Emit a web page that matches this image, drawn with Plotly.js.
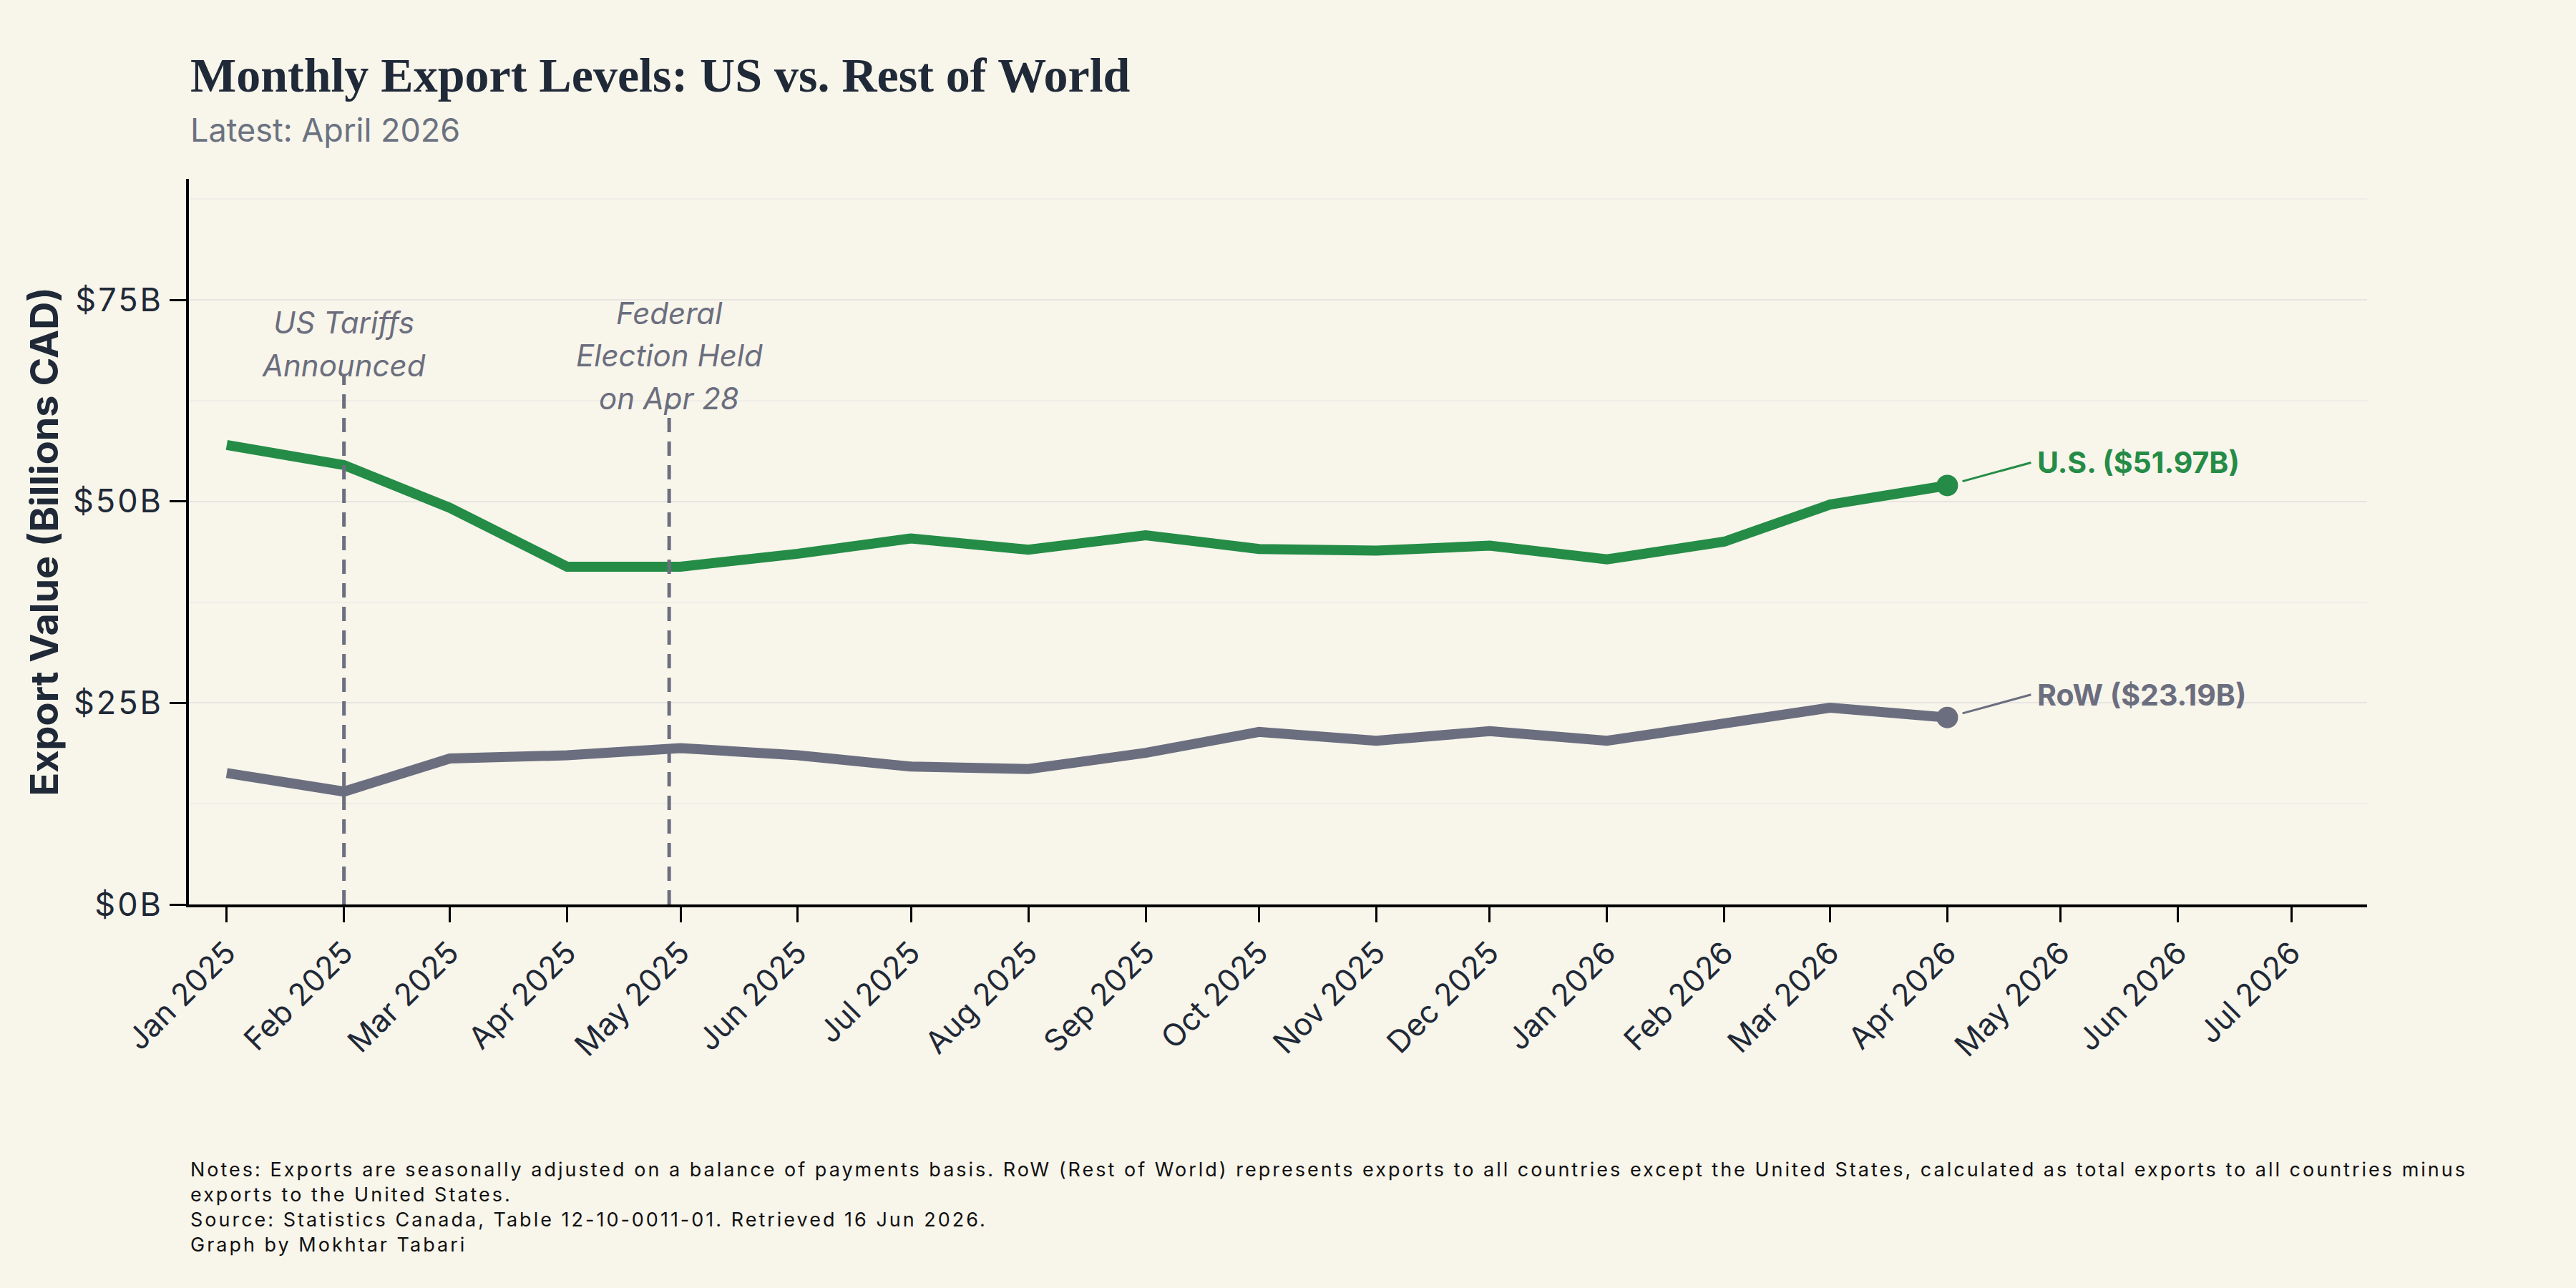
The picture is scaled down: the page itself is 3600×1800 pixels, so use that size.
<!DOCTYPE html>
<html>
<head>
<meta charset="utf-8">
<script src="https://cdn.plot.ly/plotly-3.0.1.min.js"></script>
<style>
  html, body { margin: 0; padding: 0; background: #f8f5eb; }
  #chart { width: 3600px; height: 1800px; }
  /* open tracking on the value axis labels */
  #chart .ytick text { letter-spacing: 3px; }
</style>
</head>
<body>
<div id="chart"></div>
<script>
// Monthly export values, billions CAD (seasonally adjusted, BOP basis)
const months = [
  "2025-01-01", "2025-02-01", "2025-03-01", "2025-04-01", "2025-05-01", "2025-06-01",
  "2025-07-01", "2025-08-01", "2025-09-01", "2025-10-01", "2025-11-01", "2025-12-01",
  "2026-01-01", "2026-02-01", "2026-03-01", "2026-04-01"
];
const usExports = [57.0, 54.5, 49.2, 41.9, 41.9, 43.5, 45.4, 44.0, 45.8, 44.1, 43.9, 44.5, 42.8, 45.0, 49.6, 51.97];
const rowExports = [16.3, 14.0, 18.1, 18.5, 19.4, 18.5, 17.1, 16.8, 18.8, 21.4, 20.3, 21.5, 20.3, 22.3, 24.4, 23.19];

// Policy events marked on the timeline
const eventDates = ["2025-02-01", "2025-04-28"];
const eventLabels = [["US Tariffs", "Announced"], ["Federal", "Election Held", "on Apr 28"]];

const GREEN = "#248c46";
const GREY = "#6b6e7e";
const INK = "#1f2937";
const BG = "#f8f5eb";
const SANS = "Inter, 'Noto Sans', sans-serif";
const SERIF = "'Liberation Serif', 'DejaVu Serif', serif";

const last = months.length - 1;

const traces = [
  {
    x: months, y: usExports, type: "scatter", mode: "lines", name: "U.S.",
    line: { color: GREEN, width: 14 }, hoverinfo: "skip"
  },
  {
    x: months, y: rowExports, type: "scatter", mode: "lines", name: "RoW",
    line: { color: GREY, width: 14 }, hoverinfo: "skip"
  },
  {
    x: [months[last]], y: [usExports[last]], type: "scatter", mode: "markers",
    marker: { color: GREEN, size: 30 }, hoverinfo: "skip"
  },
  {
    x: [months[last]], y: [rowExports[last]], type: "scatter", mode: "markers",
    marker: { color: GREY, size: 30 }, hoverinfo: "skip"
  }
];

// dashed event markers and their stacked captions
const eventStyle = [
  { top: 65.8, captionY: 72.2 },
  { top: 61.9, captionY: 73.4 }
];
const shapes = eventDates.map((d, i) => ({
  type: "line", xref: "x", yref: "y",
  x0: d, x1: d, y0: 0, y1: eventStyle[i].top,
  line: { color: GREY, width: 5, dash: "20px,13px" },
  layer: "above"
}));

const annotations = [];
eventLabels.forEach((lines, i) => {
  lines.forEach((txt, j) => {
    annotations.push({
      xref: "x", yref: "y", x: eventDates[i], y: eventStyle[i].captionY,
      yshift: -59.5 * j,
      text: txt, showarrow: false, xanchor: "center", yanchor: "middle",
      font: { family: SANS, size: 42, color: GREY, style: "italic" }
    });
  });
});

// end-of-line value labels
function endLabel(name, values, color) {
  return {
    xref: "x", yref: "y", x: months[last], y: values[last],
    text: name + " ($" + values[last].toFixed(2) + "B)",
    showarrow: true, arrowhead: 0, arrowwidth: 3, arrowcolor: color,
    ax: 117, ay: -32, standoff: 22, borderpad: 8,
    xanchor: "left", yanchor: "middle",
    font: { family: SANS, size: 41, color: color, weight: 700 }
  };
}
annotations.push(endLabel("U.S.", usExports, GREEN));
annotations.push(endLabel("RoW", rowExports, GREY));

// heading, subheading and footnotes
annotations.push({
  xref: "paper", yref: "paper", x: 0, y: 1.143, xanchor: "left", yanchor: "middle",
  text: "Monthly Export Levels: US vs. Rest of World", showarrow: false,
  font: { family: SERIF, size: 68, color: INK, weight: 700 }
});
annotations.push({
  xref: "paper", yref: "paper", x: 0, y: 1.0674, xanchor: "left", yanchor: "middle",
  text: "Latest: April 2026", showarrow: false,
  font: { family: SANS, size: 45, color: "#6b7280" }
});
annotations.push({
  xref: "paper", yref: "paper", x: 0, y: -0.347, xanchor: "left", yanchor: "top", align: "left",
  text: "Notes: Exports are seasonally adjusted on a balance of payments basis. RoW (Rest of World) represents exports to all countries except the United States, calculated as total exports to all countries minus<br>" +
        "exports to the United States.<br>" +
        "Source: Statistics Canada, Table 12-10-0011-01. Retrieved 16 Jun 2026.<br>" +
        "Graph by Mokhtar Tabari",
  showarrow: false,
  font: { family: SANS, size: 27, color: "#111111" }
});

const layout = {
  width: 3600, height: 1800,
  paper_bgcolor: BG, plot_bgcolor: BG,
  margin: { l: 264, r: 292, t: 250, b: 536, pad: 0 },
  showlegend: false,
  font: { family: SANS, color: INK },
  xaxis: {
    type: "date",
    range: ["2024-12-22", "2026-07-21"],
    tick0: "2025-01-01", dtick: "M1", tickformat: "%b %Y",
    tickangle: -45,
    tickfont: { family: SANS, size: 43, color: INK },
    ticks: "outside", ticklen: 21, tickwidth: 3, tickcolor: "#000000",
    showline: true, linewidth: 4, linecolor: "#000000",
    showgrid: false, zeroline: false
  },
  yaxis: {
    range: [0, 90],
    tick0: 0, dtick: 25,
    tickprefix: "$", ticksuffix: "B",
    tickfont: { family: SANS, size: 45, color: INK },
    ticks: "outside", ticklen: 23, tickwidth: 3, tickcolor: "#000000",
    showline: true, linewidth: 4, linecolor: "#000000",
    showgrid: true, gridcolor: "#e6e5e1", gridwidth: 2,
    minor: { dtick: 12.5, showgrid: true, gridcolor: "#f0eee7", gridwidth: 2, ticks: "" },
    zeroline: false,
    title: {
      text: "Export Value (Billions CAD)", standoff: 16,
      font: { family: SANS, size: 54, color: INK, weight: 700 }
    }
  },
  shapes: shapes,
  annotations: annotations
};

Plotly.newPlot("chart", traces, layout, { staticPlot: true, displayModeBar: false }).then(function (gd) {
  // the footnote block is set with open tracking
  gd.querySelectorAll(".annotation-text").forEach(function (t) {
    if (t.textContent.indexOf("Notes:") === 0) t.style.letterSpacing = "3px";
  });
});
</script>
</body>
</html>
